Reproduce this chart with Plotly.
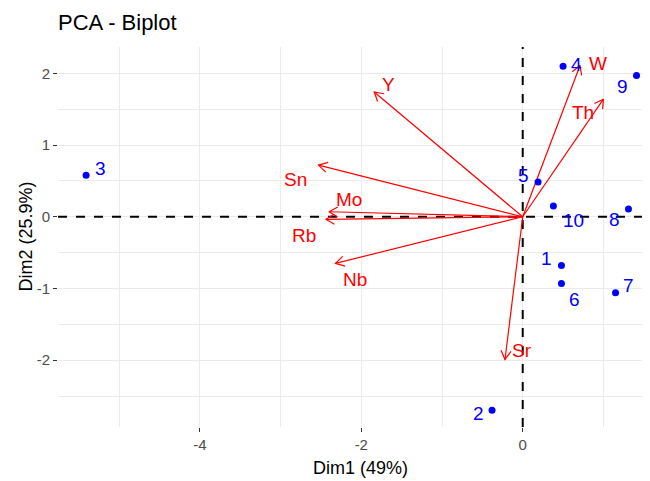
import math
import plotly.graph_objects as go

# ---- data ----
ind_labels = ["1", "2", "3", "4", "5", "6", "7", "8", "9", "10"]
ind_x = [0.48, -0.38, -5.41, 0.50, 0.19, 0.48, 1.15, 1.31, 1.41, 0.38]
ind_y = [-0.68, -2.70, 0.58, 2.10, 0.485, -0.93, -1.06, 0.11, 1.97, 0.15]

var_labels = ["W", "Th", "Y", "Sn", "Mo", "Rb", "Nb", "Sr"]
var_x = [0.71, 1.00, -1.84, -2.53, -2.40, -2.44, -2.32, -0.22]
var_y = [2.11, 1.64, 1.74, 0.72, 0.07, -0.035, -0.65, -1.99]

x_ticks = [-4, -2, 0]
y_ticks = [-2, -1, 0, 1, 2]

# ---- layout geometry / style ----
W, H = 650, 481
OFF = 8  # page body margin
# desired plot area in screenshot pixels
P_L, P_R, P_T, P_B = 58, 650, 47, 427
ML, MR, MT, MB = P_L - OFF, W + OFF - P_R, P_T - OFF, H + OFF - P_B
XR = [-5.758, 1.577]
YR = [-2.932, 2.368]
PW, PH = P_R - P_L, P_B - P_T
SX = PW / (XR[1] - XR[0])
SY = PH / (YR[1] - YR[0])
FONT = "Liberation Sans, Arial, sans-serif"

# label offsets in pixels (dx right, dy down)
ind_off = {"1": (-15, -7), "2": (-14, 3), "3": (14, -7), "4": (13, -2),
           "5": (-15, -7), "6": (13, 16), "7": (13, -7), "8": (-14, 11),
           "9": (-14, 11), "10": (20, 14)}
var_off = {"W": (18, -2), "Th": (-20, 13), "Y": (14, -8), "Sn": (-23, 14),
           "Mo": (20, -12), "Rb": (-22, 16), "Nb": (20, 16), "Sr": (17, -9)}

fig = go.Figure()

# reference lines at zero (dashed), drawn as traces
fig.add_trace(go.Scatter(x=[0, 0], y=YR, mode="lines",
                         line=dict(color="#000000", width=2, dash="dash"),
                         hoverinfo="skip", showlegend=False))
fig.add_trace(go.Scatter(x=XR, y=[0, 0], mode="lines",
                         line=dict(color="#000000", width=2, dash="dash"),
                         hoverinfo="skip", showlegend=False))

# arrows: shafts + open V heads computed in pixel space
HEAD_L, HEAD_A = 10, math.radians(30)
ax_, ay_ = [], []
for vx, vy in zip(var_x, var_y):
    ax_ += [0, vx, None]
    ay_ += [0, vy, None]
    px, py = vx * SX, vy * SY
    n = math.hypot(px, py)
    ux, uy = px / n, py / n
    pts = []
    for s in (1, -1):
        c, sn = math.cos(s * HEAD_A), math.sin(s * HEAD_A)
        rx, ry = ux * c - uy * sn, ux * sn + uy * c
        pts.append((vx - HEAD_L * rx / SX, vy - HEAD_L * ry / SY))
    ax_ += [pts[0][0], vx, pts[1][0], None]
    ay_ += [pts[0][1], vy, pts[1][1], None]

fig.add_trace(go.Scatter(x=ax_, y=ay_, mode="lines",
                         line=dict(color="#FF0000", width=1.2),
                         hoverinfo="skip", showlegend=False))

fig.add_trace(go.Scatter(x=ind_x, y=ind_y, mode="markers",
                         marker=dict(color="#0000FF", size=7),
                         showlegend=False))

annotations = []
for lab, x, y in zip(ind_labels, ind_x, ind_y):
    dx, dy = ind_off[lab]
    annotations.append(dict(x=x, y=y, xref="x", yref="y", text=lab, showarrow=False,
                            xshift=dx, yshift=-dy,
                            font=dict(family=FONT, size=19, color="#0000FF")))
for lab, x, y in zip(var_labels, var_x, var_y):
    dx, dy = var_off[lab]
    annotations.append(dict(x=x, y=y, xref="x", yref="y", text=lab, showarrow=False,
                            xshift=dx, yshift=-dy,
                            font=dict(family=FONT, size=19, color="#FF0000")))

annotations.append(dict(text="Dim1 (49%)", xref="paper", yref="paper",
                        x=(360.5 - P_L) / PW, y=(P_B - 468) / PH,
                        xanchor="center", yanchor="middle", showarrow=False,
                        font=dict(family=FONT, size=18, color="#000000")))
annotations.append(dict(text="Dim2 (25.9%)", xref="paper", yref="paper",
                        x=(25 - P_L) / PW, y=(P_B - 236.5) / PH, textangle=-90,
                        xanchor="center", yanchor="middle", showarrow=False,
                        font=dict(family=FONT, size=18, color="#000000")))

axis_common = dict(showgrid=True, gridcolor="#EBEBEB", gridwidth=1.3,
                   zeroline=False, showline=False, ticks="outside", ticklen=4,
                   tickcolor="#333333", tickwidth=1,
                   tickfont=dict(family=FONT, size=15, color="#4D4D4D"))

fig.update_layout(
    width=W, height=H,
    margin=dict(l=ML, r=MR, t=MT, b=MB),
    plot_bgcolor="#FFFFFF", paper_bgcolor="#FFFFFF",
    title=dict(text="PCA - Biplot", x=(P_L - OFF) / W, xanchor="left",
               y=1 - (22 - OFF) / H, yanchor="middle",
               font=dict(family=FONT, size=22, color="#000000")),
    xaxis=dict(range=XR, tickvals=x_ticks, ticktext=[str(v) for v in x_ticks],
               minor=dict(tickvals=[-5, -3, -1, 1], showgrid=True,
                          gridcolor="#EBEBEB", gridwidth=0.7, ticks=""),
               **axis_common),
    yaxis=dict(range=YR, tickvals=y_ticks, ticktext=[str(v) for v in y_ticks],
               minor=dict(tickvals=[-2.5, -1.5, -0.5, 0.5, 1.5], showgrid=True,
                          gridcolor="#EBEBEB", gridwidth=0.7, ticks=""),
               **axis_common),
    annotations=annotations,
    showlegend=False,
)

fig.write_html("out.html")
